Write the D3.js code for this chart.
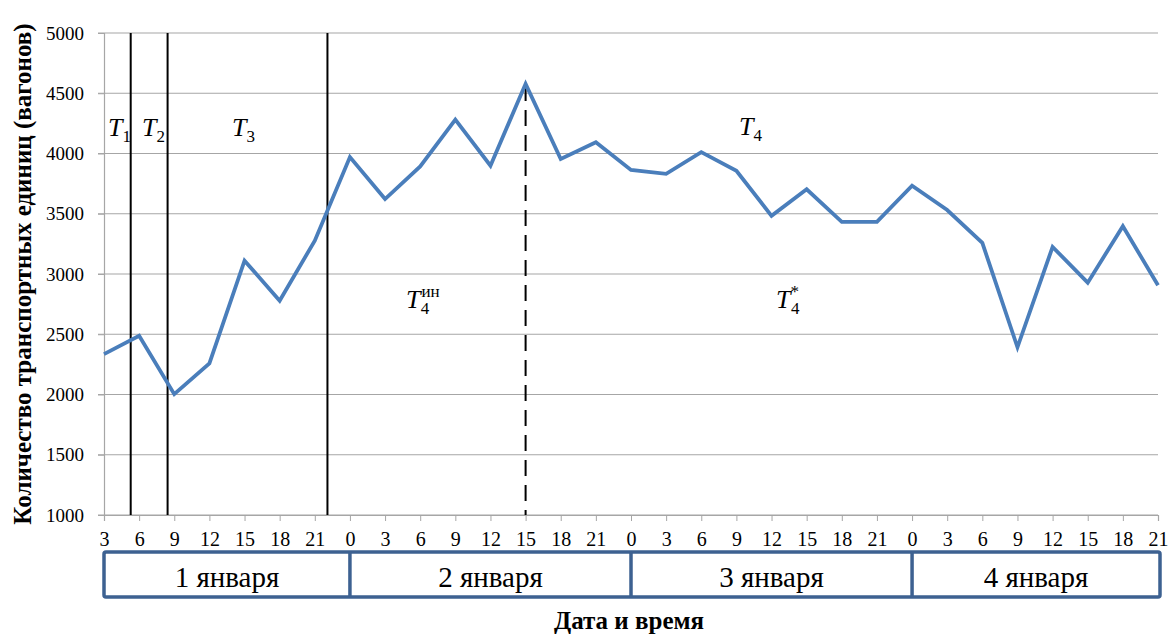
<!DOCTYPE html>
<html><head><meta charset="utf-8">
<script src="https://cdn.jsdelivr.net/npm/d3@7"></script>
<style>
body{margin:0;background:#fff;}
svg text{font-family:"Liberation Serif","Times New Roman",serif !important;}
</style></head>
<body><svg id="c" width="1176" height="637"></svg>
<script>
// ---- data ----
const hours = [3,6,9,12,15,18,21, 0,3,6,9,12,15,18,21, 0,3,6,9,12,15,18,21, 0,3,6,9,12,15,18,21];
const values = [2335,2487,2003,2258,3111,2778,3277,
                3971,3622,3893,4281,3899,4578,3954,4093,
                3864,3831,4011,3856,3483,3703,3433,3433,
                3733,3531,3258,2392,3225,2928,3397,2906];
const days = ["1 января","2 января","3 января","4 января"];
const dayStart = [0,7,15,23];      // index of first point of each day
const yTicks = [1000,1500,2000,2500,3000,3500,4000,4500,5000];
const solidMarkers = [0.76, 1.81, 6.36]; // positions in point-index units
const dashedMarkers = [12];
const yTitle = "Количество транспортных единиц (вагонов)";
const xTitle = "Дата и время";

const svg = d3.select("#c");
const L=104, R=1158, T=33, B=515;
const x = d3.scaleLinear().domain([0, hours.length-1]).range([L,R]);
const y = d3.scaleLinear().domain([1000,5000]).range([B,T]);

// gridlines
svg.append("g").selectAll("line").data(yTicks).join("line")
  .attr("x1",L-6).attr("x2",R).attr("y1",d=>y(d)).attr("y2",d=>y(d))
  .attr("stroke","#a6a6a6").attr("stroke-width",1.2);

// y axis
const ya = svg.append("g").attr("transform",`translate(${L},0)`)
  .call(d3.axisLeft(y).tickValues(yTicks).tickSize(6).tickPadding(14).tickFormat(d3.format("d")));
ya.attr("font-family",null).attr("font-size",null);
ya.select(".domain").attr("stroke","#a6a6a6").attr("stroke-width",1.2);
ya.selectAll(".tick line").attr("stroke","#a6a6a6");
ya.selectAll("text").attr("font-size",19).attr("fill","#000");

// x axis
const xa = svg.append("g").attr("transform",`translate(0,${B})`)
  .call(d3.axisBottom(x).tickValues(d3.range(hours.length)).tickSize(6).tickPadding(11).tickFormat(i=>hours[i]));
xa.attr("font-family",null).attr("font-size",null);
xa.select(".domain").attr("stroke","#a6a6a6").attr("stroke-width",1.2);
xa.selectAll(".tick line").attr("stroke","#a6a6a6");
xa.selectAll("text").attr("font-size",20).attr("fill","#000");

// markers
svg.append("g").selectAll("line").data(solidMarkers).join("line")
  .attr("x1",d=>x(d)).attr("x2",d=>x(d)).attr("y1",T).attr("y2",B)
  .attr("stroke","#000").attr("stroke-width",2);
svg.append("g").selectAll("line").data(dashedMarkers).join("line")
  .attr("x1",d=>x(d)).attr("x2",d=>x(d)).attr("y1",T+52).attr("y2",B)
  .attr("stroke","#000").attr("stroke-width",2).attr("stroke-dasharray","16,9");

// line
svg.append("path").datum(values)
  .attr("d", d3.line().x((d,i)=>x(i)).y(d=>y(d)))
  .attr("fill","none").attr("stroke","#4a7ebb").attr("stroke-width",3.8)
  .attr("stroke-linejoin","miter");

// date boxes
const boxTop=552, boxBot=597;
const dayEdges = dayStart.map(i=>x(i)).concat([R+2]);
svg.append("rect").attr("x",L).attr("y",boxTop).attr("width",R+2-L).attr("height",boxBot-boxTop)
  .attr("fill","none").attr("stroke","#3d6191").attr("stroke-width",3.5).attr("rx",2);
svg.append("g").selectAll("line").data(dayStart.slice(1)).join("line")
  .attr("x1",i=>x(i)).attr("x2",i=>x(i)).attr("y1",boxTop).attr("y2",boxBot)
  .attr("stroke","#3d6191").attr("stroke-width",3.5);
svg.append("g").selectAll("text").data(days).join("text")
  .attr("x",(d,i)=>(dayEdges[i]+dayEdges[i+1])/2).attr("y",587)
  .attr("text-anchor","middle").attr("font-size",29).attr("fill","#000").text(d=>d);

// titles
svg.append("text").attr("transform","translate(31,274) rotate(-90)")
  .attr("text-anchor","middle").attr("font-size",25).attr("font-weight","bold").text(yTitle);
svg.append("text").attr("x",629).attr("y",629)
  .attr("text-anchor","middle").attr("font-size",25).attr("font-weight","bold").text(xTitle);

// T labels
function tlabel(xp, yp, sub, sup){
  const t = svg.append("text").attr("x",xp).attr("y",yp).attr("font-size",26);
  t.append("tspan").attr("font-style","italic").text("T");
  if(sup){
    const sx = t.append("tspan").attr("font-size",17).attr("dy",-11).text(sup.text);
    sx.attr("dx", sup.dx||0);
    t.append("tspan").attr("font-size",17).attr("dy",17).attr("dx",-sup.w).text(sub);
  } else {
    t.append("tspan").attr("font-size",17).attr("dy",6).text(sub);
  }
}
tlabel(108,136,"1");
tlabel(142,136,"2");
tlabel(232,136,"3");
tlabel(739,135,"4");
tlabel(406,308,"4",{text:"ин",w:19,dx:1});
tlabel(776,308,"4",{text:"*",w:8,dx:0});
</script></body></html>
